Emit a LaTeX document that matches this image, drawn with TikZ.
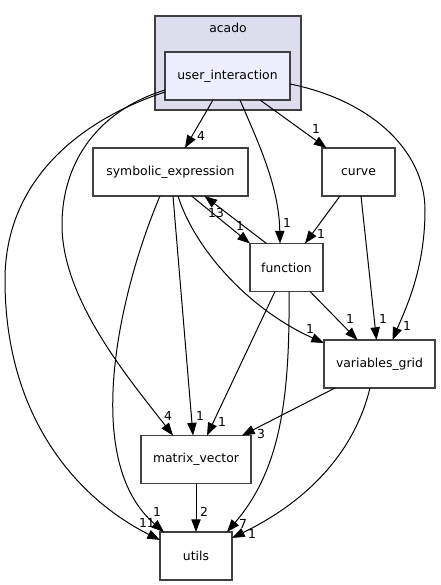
\documentclass[tikz,border=0pt]{standalone}
\usepackage{fontspec}
\setmainfont{DejaVu Sans}
\usetikzlibrary{arrows.meta,calc}
\definecolor{clusterfill}{HTML}{DDDDEE}
\definecolor{uifill}{HTML}{EEEEFF}
\definecolor{boxline}{HTML}{404040}

\begin{document}
\begin{tikzpicture}[x=0.75pt,y=-0.75pt,->,>={Triangle[length=9.5pt,width=7pt]},
   font=\fontsize{9.3}{11}\selectfont,line width=0.75pt,
   box/.style={draw=boxline,line width=1.1pt,fill=white,inner sep=0pt,outer sep=0pt,minimum height=36pt},
   num/.style={inner sep=0pt}]
   \useasboundingbox (0,0) rectangle (441,585);

   \node[box,fill=clusterfill,minimum width=109.5pt,minimum height=70.5pt] (acado) at (228,63) {};
   \node[num] (acadoname) at (228,28) {acado};
   \node[box,fill=uifill,minimum width=93.75pt] (ui) at (227.5,76) {user\_interaction};

   \node[box,minimum width=116.25pt] (sym) at (170.5,172) {symbolic\_expression};
   \node[box,minimum width=54.75pt] (curve) at (358.5,172) {curve};
   \node[box,minimum width=54.75pt] (fn) at (286.5,267.5) {function};
   \node[box,minimum width=83.25pt] (vg) at (379.5,364) {variables\_grid};
   \node[box,minimum width=82.5pt] (mv) at (196,459.5) {matrix\_vector};
   \node[box,minimum width=54pt] (utils) at (196,556) {utils};

   % user_interaction
   \path ($(ui.south)+(-14.5,0)$) edge ($(sym.north)+(14.5,0)$);
   \draw ($(ui.south)+(12.5,0)$) .. controls (257,140) and (279,185) .. ($(fn.north)+(-6.5,0)$);
   \path ($(ui.south)+(32.5,0)$) edge ($(curve.north)+(-32,0)$);
   \draw ($(ui.east)+(0,8)$) .. controls (370,100) and (425,150) .. (425,210)
      .. controls (425,270) and (405,310) .. ($(vg.north)+(13,0)$);
   \draw ($(ui.west)+(0,14)$) .. controls (100,110) and (62,160) .. (62,225)
      .. controls (62,300) and (130,380) .. ($(mv.north)+(-23,0)$);
   \draw ($(ui.west)+(0,16)$) .. controls (80,120) and (5,180) .. (5,280)
      .. controls (5,420) and (80,500) .. ($(utils.west)+(0,-16)$);

   % symbolic_expression
   \path ($(sym.south)+(21,0)$) edge (fn.north west);
   \draw ($(sym.south)+(7.5,0)$) .. controls (195,250) and (250,310) .. ($(vg.west)+(0,-21)$);
   \path ($(sym.south)+(2.5,0)$) edge ($(mv.north)+(-3,0)$);
   \draw ($(sym.south)+(-10.5,0)$) .. controls (120,290) and (80,460) .. ($(utils.north)+(-32,0)$);

   % function
   \path ($(fn.north)+(-20,0)$) edge ($(sym.south)+(34,0)$);
   \path ($(fn.south)+(23.5,0)$) edge ($(vg.north)+(-22,0)$);
   \path ($(fn.south)+(-11.5,0)$) edge ($(mv.north)+(11,0)$);
   \draw ($(fn.south)+(2.5,0)$) .. controls (290,400) and (280,470) .. ($(utils.north)+(31,0)$);

   % curve
   \path ($(curve.south)+(-18.5,0)$) edge ($(fn.north)+(18.5,0)$);
   \path ($(curve.south)+(2.5,0)$) edge ($(vg.north)+(-3,0)$);

   % variables_grid, matrix_vector
   \path ($(vg.south)+(-44.5,0)$) edge ($(mv.north)+(46,0)$);
   \draw ($(vg.south)+(-9.5,0)$) .. controls (355,450) and (310,500) .. ($(utils.east)+(0,-18)$);
   \path (mv.south) edge (utils.north);

   % counts
   \node[num] (n-ui-sym) at (201,136) {4};
   \node[num] (n-ui-fn) at (287,223) {1};
   \node[num] (n-ui-curve) at (316,129) {1};
   \node[num] (n-ui-vg) at (407,326) {1};
   \node[num] (n-ui-mv) at (168,416) {4};
   \node[num] (n-ui-utils) at (147,523) {11};
   \node[num] (n-sym-fn) at (240,226) {1};
   \node[num] (n-fn-sym) at (216,213) {13};
   \node[num] (n-sym-vg) at (310,329) {1};
   \node[num] (n-sym-mv) at (200,416) {1};
   \node[num] (n-sym-utils) at (157,512) {1};
   \node[num] (n-curve-fn) at (321,234) {1};
   \node[num] (n-curve-vg) at (383,319) {1};
   \node[num] (n-fn-vg) at (350,319) {1};
   \node[num] (n-fn-mv) at (222,422) {1};
   \node[num] (n-fn-utils) at (243,524) {7};
   \node[num] (n-vg-mv) at (261,434) {3};
   \node[num] (n-vg-utils) at (252,534) {1};
   \node[num] (n-mv-utils) at (204,512) {2};
\end{tikzpicture}
\end{document}
